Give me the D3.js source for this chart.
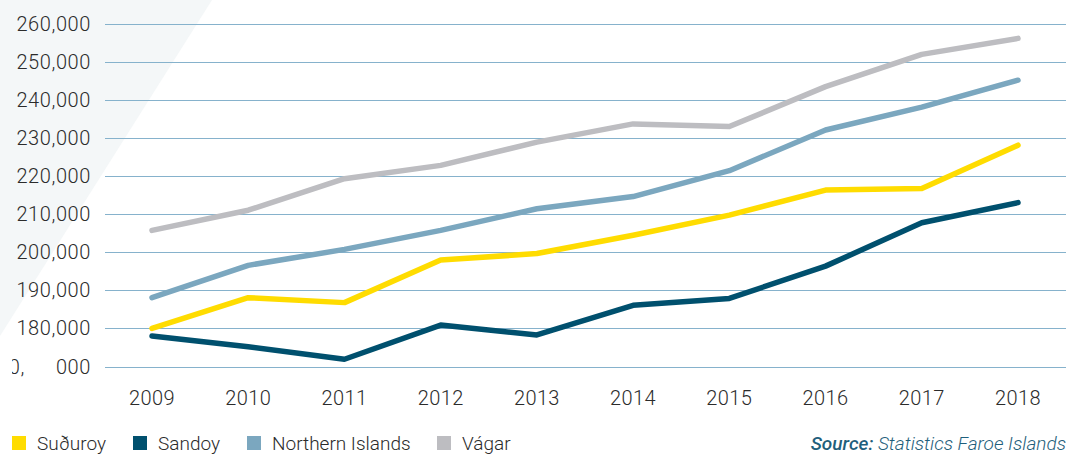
<!DOCTYPE html>
<html>
<head>
<meta charset="utf-8">
<script src="https://cdn.jsdelivr.net/npm/d3@7/dist/d3.min.js"></script>
<style>
  html, body { margin: 0; padding: 0; background: #ffffff; }
  svg { display: block; font-family: Roboto, "Open Sans", sans-serif; }
</style>
</head>
<body>
<svg id="chart" width="1071" height="455"></svg>
<script>
// Average values per region, 2009–2018
const years = ["2009", "2010", "2011", "2012", "2013", "2014", "2015", "2016", "2017", "2018"];
const suduroy = [180000, 188100, 186800, 198000, 199700, 204500, 209800, 216400, 216800, 228200];
const sandoy = [178000, 175200, 171900, 180900, 178300, 186100, 187900, 196400, 207800, 213100];
const northernIslands = [188100, 196600, 200800, 205800, 211500, 214700, 221500, 232200, 238200, 245300];
const vagar = [205800, 211100, 219400, 222900, 229000, 233800, 233100, 243600, 252100, 256300];
const yTicks = [170000, 180000, 190000, 200000, 210000, 220000, 230000, 240000, 250000, 260000];
const seriesNames = ["Suðuroy", "Sandoy", "Northern Islands", "Vágar"];
const seriesColors = ["#ffdc00", "#00506e", "#7ba7bf", "#bdbdc1"];

const series = [suduroy, sandoy, northernIslands, vagar].map((values, i) => ({
  name: seriesNames[i], color: seriesColors[i], values
}));

const svg = d3.select("#chart");

// pale wedge in the top-left corner
svg.append("path")
  .attr("d", "M0,0 L212,0 L0,336 Z")
  .attr("fill", "#f4f7f8");

const x = d3.scalePoint().domain(years).range([152, 1018]);
const y = d3.scaleLinear().domain([170000, 260000]).range([366.5, 24.3]);
const fmt = d3.format(",");

// horizontal grid
svg.append("g")
  .selectAll("line")
  .data(yTicks)
  .join("line")
  .attr("x1", 105).attr("x2", 1066)
  .attr("y1", d => Math.round(y(d)) + 0.5)
  .attr("y2", d => Math.round(y(d)) + 0.5)
  .attr("stroke", "#86b2cc")
  .attr("stroke-width", 1);

// y tick labels
const clip = svg.append("defs").append("clipPath").attr("id", "lowClip");
clip.append("rect").attr("x", 12).attr("y", 340).attr("width", 100).attr("height", 50);

const yLabels = svg.append("g")
  .attr("font-size", 20)
  .attr("font-weight", 300)
  .attr("fill", "#2b2b2b")
  .attr("letter-spacing", 0.6);

yTicks.forEach(v => {
  const label = fmt(v);
  if (v === yTicks[0]) {
    // lowest label is partly hidden at the left edge
    const [lead, tail] = label.split(",");
    yLabels.append("text")
      .attr("x", 91).attr("y", y(v)).attr("dy", "0.35em")
      .attr("text-anchor", "end")
      .text(tail);
    yLabels.append("text")
      .attr("x", 25).attr("y", y(v)).attr("dy", "0.35em")
      .attr("text-anchor", "end")
      .attr("clip-path", "url(#lowClip)")
      .text(lead.slice(-1) + ",");
  } else {
    yLabels.append("text")
      .attr("x", 91).attr("y", y(v)).attr("dy", "0.35em")
      .attr("text-anchor", "end")
      .text(label);
  }
});

// x axis labels
svg.append("g")
  .attr("font-size", 20)
  .attr("font-weight", 300)
  .attr("fill", "#2b2b2b")
  .attr("letter-spacing", 0.4)
  .selectAll("text")
  .data(years)
  .join("text")
  .attr("x", d => x(d))
  .attr("y", 398)
  .attr("dy", "0.35em")
  .attr("text-anchor", "middle")
  .text(d => d);

// series lines
const line = d3.line()
  .x((d, i) => x(years[i]))
  .y(d => y(d));

svg.append("g")
  .selectAll("path")
  .data(series.slice().reverse())
  .join("path")
  .attr("d", d => line(d.values))
  .attr("fill", "none")
  .attr("stroke", d => d.color)
  .attr("stroke-width", 5.5)
  .attr("stroke-linecap", "round")
  .attr("stroke-linejoin", "round");

// legend
const legendX = [12, 133, 247, 437];
const legend = svg.append("g")
  .selectAll("g")
  .data(series)
  .join("g")
  .attr("transform", (d, i) => `translate(${legendX[i]},436)`);
legend.append("rect")
  .attr("width", 14).attr("height", 14)
  .attr("fill", d => d.color);
legend.append("text")
  .attr("x", 25).attr("y", 7).attr("dy", "0.35em")
  .attr("font-size", 19)
  .attr("font-weight", 300)
  .attr("fill", "#2b2b2b")
  .text(d => d.name);

// source note
const src = svg.append("text")
  .attr("x", 1066).attr("y", 443).attr("dy", "0.35em")
  .attr("text-anchor", "end")
  .attr("font-size", 19)
  .attr("font-style", "italic")
  .attr("font-weight", 300)
  .attr("fill", "#1f5f7c");
src.append("tspan").attr("font-weight", 500).text("Source:");
src.append("tspan").text(" Statistics Faroe Islands");
</script>
</body>
</html>
